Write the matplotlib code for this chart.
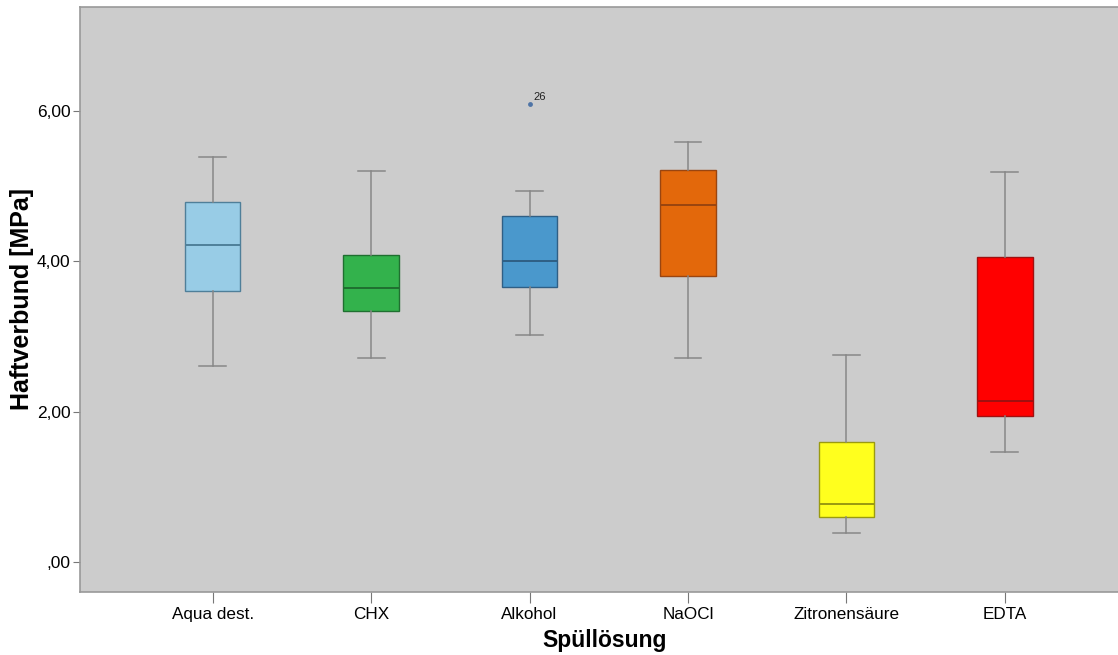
import matplotlib
matplotlib.use('Agg')
import matplotlib.pyplot as plt          # boxplot figure

plt.rcParams['font.family'] = ['Liberation Sans', 'DejaVu Sans']

# Spüllösung groups and their box statistics (MPa)
groups = ['Aqua dest.', 'CHX', 'Alkohol', 'NaOCl', 'Zitronensäure', 'EDTA']
whisk_lo = [2.61, 2.72, 3.02, 2.71, 0.39, 1.47]
q1 = [3.60, 3.34, 3.66, 3.80, 0.60, 1.95]
median = [4.22, 3.64, 4.01, 4.75, 0.78, 2.14]
q3 = [4.79, 4.08, 4.60, 5.22, 1.60, 4.06]
whisk_hi = [5.39, 5.20, 4.93, 5.58, 2.75, 5.19]
outliers = [[], [], [6.09], [], [], []]
outlier_ids = [[], [], ['26'], [], [], []]

fills = ['#98cce6', '#33b24c', '#4a98cc', '#e3680b', '#ffff1e', '#ff0000']
edges = ['#4f7f99', '#1f6f30', '#2f5f85', '#9a4510', '#9a9a10', '#a01010']

fig = plt.figure(figsize=(11.18, 6.55), dpi=100)
ax = fig.add_axes([80.3 / 1118, 1 - 591.7 / 655, 1 - 80.3 / 1118 + 0.01, (591.7 - 7) / 655])
ax.set_facecolor('#cccccc')

stats = []
for i in range(len(groups)):
    stats.append({'label': groups[i], 'whislo': whisk_lo[i], 'q1': q1[i], 'med': median[i],
                  'q3': q3[i], 'whishi': whisk_hi[i], 'fliers': outliers[i]})

bp = ax.bxp(stats, positions=range(len(groups)), widths=0.35, capwidths=0.17,
            patch_artist=True, showfliers=False,
            whiskerprops=dict(color='#878787', linewidth=1.1),
            capprops=dict(color='#878787', linewidth=1.1))

for i, box in enumerate(bp['boxes']):
    box.set_facecolor(fills[i])
    box.set_edgecolor(edges[i])
    box.set_linewidth(1.0)
    bp['medians'][i].set_color(edges[i])
    bp['medians'][i].set_linewidth(1.4)

# outliers with case number
for i in range(len(groups)):
    for val, lab in zip(outliers[i], outlier_ids[i]):
        ax.plot(i, val, 'o', markersize=3.5, color='#4f74a6', markeredgewidth=0)
        ax.annotate(lab, (i, val), xytext=(3, 3), textcoords='offset points',
                    fontsize=8, color='#222222')

ax.set_xlim(-0.835, 5.784)
ax.set_ylim(-0.39, 7.38)
ax.set_yticks([0, 2, 4, 6])
ax.set_yticklabels([',00', '2,00', '4,00', '6,00'])
ax.set_xticks(range(len(groups)))
ax.set_xticklabels(groups)
ax.tick_params(axis='y', length=5, color='#777777', labelsize=12.5, pad=2)
ax.tick_params(axis='x', length=8, color='#777777', labelsize=12.3, pad=3)

for s in ax.spines.values():
    s.set_color('#999999')
    s.set_linewidth(1.2)

ax.set_ylabel('Haftverbund [MPa]', fontsize=18, fontweight='bold')
ax.yaxis.set_label_coords(-0.044, 0.5)
ax.set_xlabel('Spüllösung', fontsize=16.5, fontweight='bold', labelpad=5)

fig.savefig('out.png', dpi=100)
plt.close()
